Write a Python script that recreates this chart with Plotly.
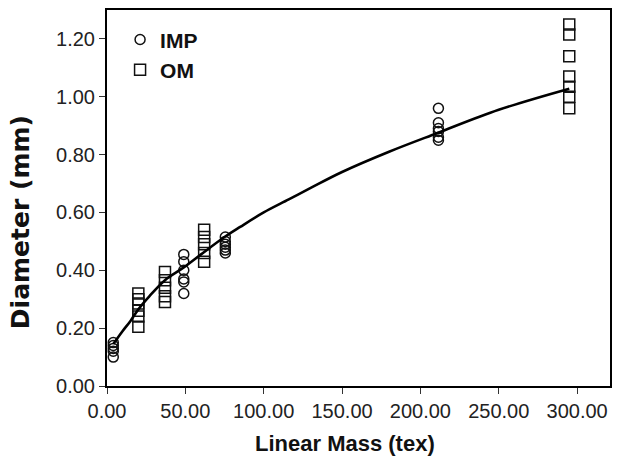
import plotly.graph_objects as go

# ---- data ----
imp_x = [4, 4, 4, 4, 4, 49, 49, 49, 49, 49, 49, 75.5, 75.5, 75.5, 75.5, 75.5, 75.5,
         211.5, 211.5, 211.5, 211.5, 211.5, 211.5]
imp_y = [0.10, 0.12, 0.13, 0.14, 0.15, 0.32, 0.36, 0.37, 0.40, 0.43, 0.455, 0.46, 0.47, 0.48, 0.49, 0.50, 0.515,
         0.85, 0.86, 0.88, 0.89, 0.91, 0.96]

om_x = [20, 20, 20, 20, 20, 20, 37, 37, 37, 37, 37, 62, 62, 62, 62, 62,
        295, 295, 295, 295, 295, 295, 295]
om_y = [0.205, 0.24, 0.26, 0.285, 0.30, 0.32, 0.29, 0.31, 0.34, 0.366, 0.394, 0.43, 0.46, 0.49, 0.515, 0.54,
        0.96, 1.00, 1.035, 1.07, 1.14, 1.215, 1.25]

fit_x = [4, 10, 15, 20, 27, 37, 49, 60, 75, 85, 100, 116, 130, 150, 180, 211, 250, 295]
fit_y = [0.145, 0.19, 0.225, 0.265, 0.31, 0.366, 0.41, 0.455, 0.515, 0.55, 0.60, 0.645, 0.685, 0.74,
         0.81, 0.875, 0.955, 1.028]

x_ticks = [0, 50, 100, 150, 200, 250, 300]
x_labels = ["0.00", "50.00", "100.00", "150.00", "200.00", "250.00", "300.00"]
y_ticks = [0, 0.2, 0.4, 0.6, 0.8, 1.0, 1.2]
y_labels = ["0.00", "0.20", "0.40", "0.60", "0.80", "1.00", "1.20"]

fig = go.Figure()
fig.add_trace(go.Scatter(x=imp_x, y=imp_y, mode="markers", name="IMP",
                         marker=dict(symbol="circle-open", size=10, color="#111",
                                     line=dict(width=1.5, color="#111"))))
fig.add_trace(go.Scatter(x=om_x, y=om_y, mode="markers", name="OM",
                         marker=dict(symbol="square-open", size=11, color="#111",
                                     line=dict(width=1.5, color="#111"))))
fig.add_trace(go.Scatter(x=fit_x, y=fit_y, mode="lines", showlegend=False,
                         line=dict(color="#000", width=2.6, shape="spline")))

axis_common = dict(showgrid=False, zeroline=False, showline=True, mirror=True,
                   linecolor="#000", linewidth=2, ticks="outside", ticklen=6,
                   tickwidth=1.3, tickcolor="#333",
                   tickfont=dict(family="Liberation Sans", size=20, color="#222"))

fig.update_xaxes(range=[0, 321], tickvals=x_ticks, ticktext=x_labels, **axis_common)
fig.update_yaxes(range=[0, 1.30], tickvals=y_ticks, ticktext=y_labels, **axis_common)

fig.update_layout(
    width=617, height=458,
    margin=dict(l=107, r=5, t=10, b=72),
    paper_bgcolor="white", plot_bgcolor="white",
    legend=dict(x=0.026, y=0.975, xanchor="left", yanchor="top",
                bgcolor="rgba(0,0,0,0)",
                font=dict(family="Liberation Sans", size=21, color="#111", weight="bold"),
                tracegroupgap=0),
    annotations=[
        dict(text="<b>Linear Mass (tex)</b>", xref="paper", yref="paper",
             x=0.473, y=-0.152, xanchor="center", yanchor="middle", showarrow=False,
             font=dict(family="Liberation Sans", size=22, color="#111")),
        dict(text="<b>Diameter (mm)</b>", xref="paper", yref="paper",
             x=-0.172, y=0.437, xanchor="center", yanchor="middle", showarrow=False,
             textangle=-90,
             font=dict(family="DejaVu Sans", size=25, color="#111")),
    ],
)

fig.write_html("out.html", config={"displayModeBar": False},
               post_script="document.body.style.margin='0';")
